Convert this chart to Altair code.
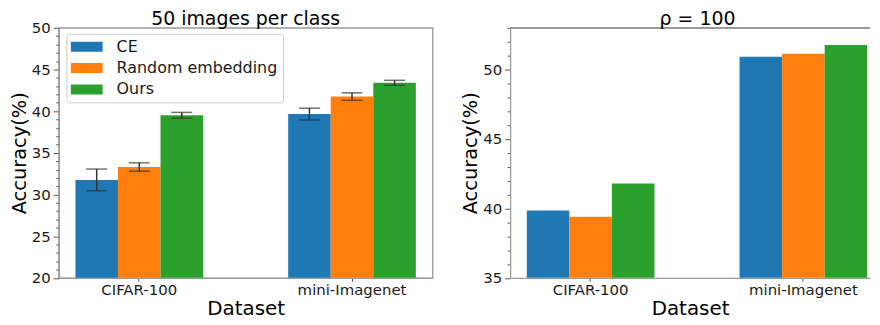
import altair as alt
import pandas as pd

datasets = ["CIFAR-100", "mini-Imagenet"]
methods = ["CE", "Random embedding", "Ours"]
colors = ["#1f77b4", "#ff7f0e", "#2ca02c"]

# Panel 1: 50 images per class (mean accuracy and error)
ce_50 = [31.75, 39.65]
re_50 = [33.3, 41.75]
ours_50 = [39.5, 43.4]
ce_50_err = [1.3, 0.7]
re_50_err = [0.5, 0.45]
ours_50_err = [0.35, 0.3]
y_domain_50 = [20, 50]

# Panel 2: rho = 100
ce_rho = [39.85, 50.92]
re_rho = [39.4, 51.13]
ours_rho = [41.8, 51.77]
y_domain_rho = [35, 53]

y_ticks_50 = list(range(20, 51))
y_ticks_rho = list(range(35, 54))

FONT = "DejaVu Sans"
SPINE = "#999999"
TICK = "#555555"
TEXT = "#1a1a1a"

rows1 = []
for m, vals, errs in zip(methods, [ce_50, re_50, ours_50], [ce_50_err, re_50_err, ours_50_err]):
    for d, v, e in zip(datasets, vals, errs):
        rows1.append({"Dataset": d, "Method": m, "acc": v, "lo": v - e, "hi": v + e})
df1 = pd.DataFrame(rows1)

rows2 = []
for m, vals in zip(methods, [ce_rho, re_rho, ours_rho]):
    for d, v in zip(datasets, vals):
        rows2.append({"Dataset": d, "Method": m, "acc": v})
df2 = pd.DataFrame(rows2)


def y_axis(values):
    return alt.Axis(
        values=values,
        title="Accuracy(%)",
        titleFontSize=19.5,
        titleFontWeight="normal",
        titleColor="black",
        titlePadding=2,
        labelExpr="datum.value % 5 === 0 ? datum.label : ''",
        labelFontSize=15,
        labelColor=TEXT,
        labelPadding=3,
        labelOverlap=False,
        labelFlush=False,
        tickSize={"condition": {"test": "datum.value % 5 === 0", "value": 5.5}, "value": 3},
        tickColor=TICK,
        tickWidth=1,
        domainColor=SPINE,
        domainWidth=1.3,
        grid=False,
    )


x_axis = alt.Axis(
    title="Dataset",
    titleFontSize=20,
    titleFontWeight="normal",
    titleColor="black",
    titlePadding=1.5,
    labelAngle=0,
    labelFontSize=15,
    labelColor=TEXT,
    labelPadding=1,
    tickSize=3.5,
    tickColor=TICK,
    domainColor=SPINE,
    domainWidth=1.3,
    grid=False,
)

color_enc = alt.Color(
    "Method:N",
    scale=alt.Scale(domain=methods, range=colors),
    legend=alt.Legend(
        title=None,
        orient="none",
        legendX=7.7,
        legendY=6,
        symbolType="M-3.2,-1H3.2V1H-3.2Z",
        symbolSize=100,
        symbolStrokeWidth=0,
        symbolOpacity=1,
        symbolOffset=7.5,
        labelOffset=22,
        labelFontSize=16,
        labelColor=TEXT,
        labelLimit=400,
        rowPadding=5.5,
        padding=5,
        fillColor="white",
        strokeColor="#cccccc",
        cornerRadius=3,
    ),
)

xoff = alt.XOffset("Method:N", sort=methods, scale=alt.Scale(domain=methods, paddingInner=0, paddingOuter=0))


def x_enc(padding_outer, align):
    return alt.X(
        "Dataset:N",
        sort=datasets,
        scale=alt.Scale(domain=datasets, paddingInner=0.4, paddingOuter=padding_outer, align=align),
        axis=x_axis,
    )


PLOT_H = 251.5
TITLE_OFFSET = -8.4

# ---- left panel ----
ys1 = alt.Scale(domain=y_domain_50, nice=False, zero=False)
ax1 = y_axis(y_ticks_50)
X1 = x_enc(0.0785, 0.5)
base1 = alt.Chart(df1)
bars1 = base1.mark_bar().encode(
    x=X1,
    xOffset=xoff,
    y=alt.Y("acc:Q", scale=ys1, axis=ax1),
    y2=alt.datum(y_domain_50[0]),
    color=color_enc,
)
err1 = base1.mark_rule(color="#333333", strokeWidth=1.5).encode(
    x=X1, xOffset=xoff, y=alt.Y("lo:Q", scale=ys1, axis=ax1), y2="hi:Q"
)
cap_lo = base1.mark_tick(orient="horizontal", size=21, thickness=1.5, color="#333333").encode(
    x=X1, xOffset=xoff, y=alt.Y("lo:Q", scale=ys1, axis=ax1)
)
cap_hi = base1.mark_tick(orient="horizontal", size=21, thickness=1.5, color="#333333").encode(
    x=X1, xOffset=xoff, y=alt.Y("hi:Q", scale=ys1, axis=ax1)
)
left = alt.layer(bars1, err1, cap_lo, cap_hi).properties(
    width=376,
    height=PLOT_H,
    title=alt.TitleParams("50 images per class", fontSize=19, fontWeight="normal", font=FONT,
                          color="black", offset=TITLE_OFFSET, frame="group"),
    view=alt.ViewBackground(stroke=SPINE, strokeWidth=1.3),
)

# ---- right panel ----
ys2 = alt.Scale(domain=y_domain_rho, nice=False, zero=False)
ax2 = y_axis(y_ticks_rho)
X2 = x_enc(0.0458, 0.857)
base2 = alt.Chart(df2)
bars2 = base2.mark_bar().encode(
    x=X2,
    xOffset=xoff,
    y=alt.Y("acc:Q", scale=ys2, axis=ax2),
    y2=alt.datum(y_domain_rho[0]),
    color=color_enc,
)
top_rule = base2.mark_rule(color=SPINE, strokeWidth=1.3).encode(y=alt.value(0))
right = alt.layer(bars2, top_rule).properties(
    width=362,
    height=PLOT_H,
    title=alt.TitleParams("ρ = 100", fontSize=19, fontWeight="normal", font=FONT, color="black",
                          offset=TITLE_OFFSET, dx=7.5, frame="group"),
    view=alt.ViewBackground(stroke="transparent"),
)

chart = (
    alt.hconcat(left, right, spacing=26)
    .properties(padding={"left": 0, "top": 0, "right": 0, "bottom": 0})
    .configure(font=FONT)
    .configure_legend(labelFont=FONT)
    .configure_axis(labelFont=FONT, titleFont=FONT)
)

chart.save("out.html", embed_options={"renderer": "svg", "actions": False})
